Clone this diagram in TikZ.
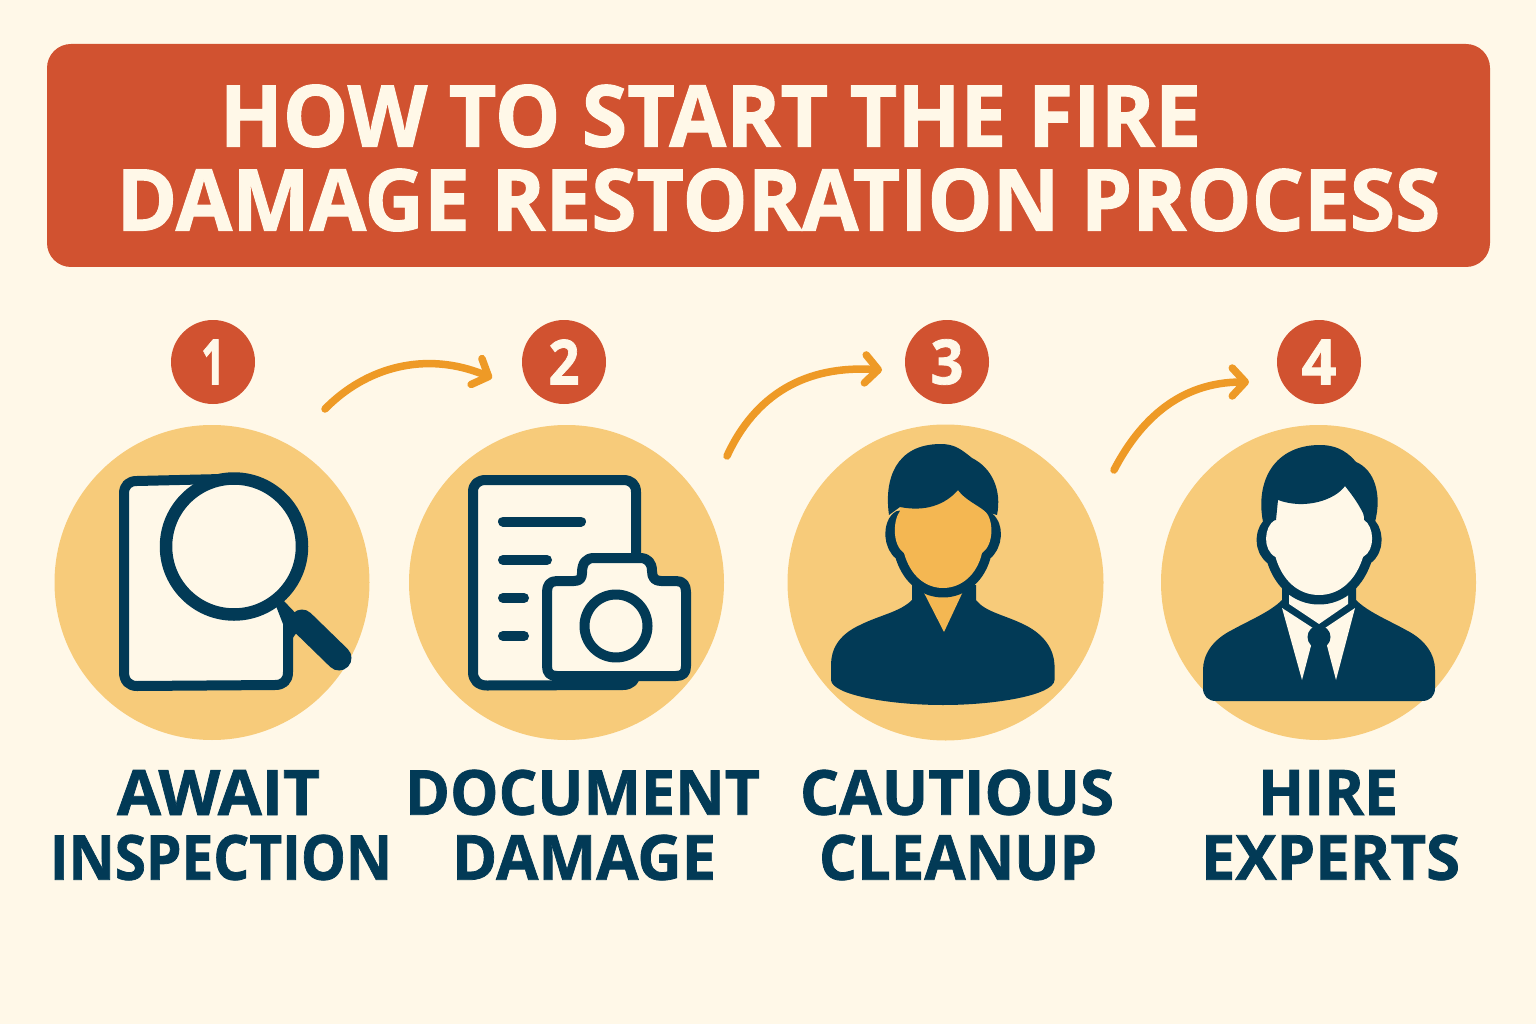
\documentclass[tikz,border=0pt]{standalone}
\usepackage{graphicx}
\usepackage{fontspec}
\setmainfont{Open Sans}[BoldFeatures={FakeBold=1.2}]
\usetikzlibrary{arrows.meta}
\definecolor{bgc}{HTML}{FFF8E8}
\definecolor{bannerc}{HTML}{D15230}
\definecolor{goldc}{HTML}{F7CB7A}
\definecolor{navyc}{HTML}{023A56}
\definecolor{orangec}{HTML}{EE9A26}
\definecolor{amberc}{HTML}{F4B752}
\newcommand{\fitcaps}[3]{\resizebox{#1pt}{#2pt}{\bfseries #3}}
\tikzset{
  txt/.style={inner sep=0pt,outer sep=0pt,anchor=center},
  titletext/.style={txt,text=bgc},
  labeltext/.style={txt,text=navyc},
  badge/.style={circle,fill=bannerc,minimum size=84pt,inner sep=0pt,text=bgc},
  halo/.style={circle,fill=goldc,inner sep=0pt},
  arr/.style={draw=orangec,line width=7.5pt,line cap=round,line join=round,
    -{Straight Barb[length=13pt,width=28pt,round]}},
  icon/.style={draw=navyc,line join=round,line cap=round},
}
\begin{document}
\begin{tikzpicture}[x=1pt,y=-1pt]
\useasboundingbox (0,0) rectangle (1536,1024);
\fill[bgc] (0,0) rectangle (1536,1024);
\node[fill=bannerc,rounded corners=24pt,minimum width=1443pt,minimum height=223pt,inner sep=0pt] (banner) at (768.5,155.5) {};
\node[titletext] (title1) at (710.5,116) {\fitcaps{981}{62}{HOW TO START THE FIRE}};
\node[titletext] (title2) at (778.5,200) {\fitcaps{1323}{62}{DAMAGE RESTORATION PROCESS}};

% halos
\node[halo,minimum size=315pt] (h1) at (212,582.5) {};
\node[halo,minimum size=315pt] (h2) at (566.5,582.5) {};
\node[halo,minimum size=316pt] (h3) at (945.5,582.5) {};
\node[halo,minimum size=315pt] (h4) at (1318.5,582.5) {};

% badges
\node[badge] (b1) at (213,362) {\fitcaps{24}{45}{1}};
\node[badge] (b2) at (564,362) {\fitcaps{31}{45}{2}};
\node[badge] (b3) at (947,362) {\fitcaps{33}{45}{3}};
\node[badge] (b4) at (1319,362) {\fitcaps{35}{45}{4}};

% arrows
\coordinate (a1s) at (325,409);
\coordinate (a1e) at (492,378);
\coordinate (a2s) at (727,456);
\coordinate (a2e) at (882,370);
\coordinate (a3s) at (1114,470);
\coordinate (a3e) at (1249,382);
\draw[arr] (a1s) .. controls (365,368) and (425,350) .. (a1e);
\draw[arr] (a2s) .. controls (755,395) and (805,365) .. (a2e);
\draw[arr] (a3s) .. controls (1140,420) and (1180,382) .. (a3e);

% icon 1: document + magnifier
\draw[icon,fill=bgc,line width=10pt] (288,622) -- (288,672) .. controls (288,681) and (283,685) .. (275,685)
  -- (137,686) .. controls (129,686) and (124,681) .. (124,672) -- (124,494)
  .. controls (124,485) and (129,481) .. (137,481) -- (222,479);
\fill[navyc] (276,606) -- (283,600) -- (304,622) -- (290,642) -- cycle;
\draw[navyc,line width=25pt,line cap=round] (302,622) -- (339,658);
\draw[icon,fill=bgc,line width=12.5pt] (234,546.5) circle (68pt);

% icon 2: document + camera
\draw[icon,fill=bgc,line width=10pt] (473,492) .. controls (473,484) and (478,480) .. (486,480) -- (623,480)
  .. controls (631,480) and (636,484) .. (636,492) -- (636,672) .. controls (636,680) and (631,685) .. (623,685)
  -- (487,685.5) .. controls (478,685.5) and (473,680) .. (473,672) -- cycle;
\draw[icon,line width=10pt] (503,521.5) -- (581,521.5);
\draw[icon,line width=10pt] (503,560) -- (547,560);
\draw[icon,line width=10pt] (503,598) -- (524,598);
\draw[icon,line width=10pt] (503,636) -- (524,636);
\fill[navyc] (552,678) rectangle (626,689);
\draw[icon,fill=bgc,line width=10pt] (547,592) .. controls (547,585) and (550,581) .. (557,581) -- (574,581)
  .. controls (580,581) and (582,578) .. (582,573) .. controls (582,563) and (586,558) .. (594,558) -- (640,558)
  .. controls (648,558) and (652,563) .. (652,571) .. controls (652,578) and (655,581) .. (661,581) -- (676,581)
  .. controls (683,581) and (686,585) .. (686,592) -- (686,666) .. controls (686,673) and (683,676) .. (676,676)
  -- (557,676) .. controls (550,676) and (547,673) .. (547,666) -- cycle;
\draw[icon,line width=10pt] (616,626) circle (31.5pt);

% icon 3: person
\fill[navyc] (912,585) -- (912,600) .. controls (900,612) and (880,615) .. (860,625)
  .. controls (838,635) and (831,650) .. (831,665) -- (831,680)
  .. controls (832,695) and (890,705) .. (943,705) .. controls (996,705) and (1054,695) .. (1054.5,680)
  -- (1054.5,665) .. controls (1054,650) and (1045,635) .. (1025,625)
  .. controls (1005,615) and (985,612) .. (976,600) -- (976,585) -- cycle;
\fill[amberc] (920,585) -- (944,632) -- (966,585) -- cycle;
\path[draw=navyc,line width=19pt,line join=round,fill=navyc] (900,520) .. controls (893,525) and (892,545) .. (904,553)
  .. controls (910,575) and (925,588) .. (943,588) .. controls (961,588) and (977,575) .. (982,553)
  .. controls (994,545) and (994,525) .. (985,520) -- cycle;
\fill[amberc] (900,480) -- (900,511) .. controls (893,520) and (892,545) .. (904,553)
  .. controls (910,575) and (925,588) .. (943,588) .. controls (961,588) and (977,575) .. (982,553)
  .. controls (994,545) and (994,520) .. (985,511) -- (985,480) -- cycle;
\fill[navyc] (889,515) .. controls (884,480) and (895,444) .. (941,444) .. controls (955,444) and (962,450) .. (972,458)
  .. controls (992,468) and (1002,490) .. (997,515) -- (986,512) .. controls (978,505) and (965,500) .. (958,490)
  .. controls (945,505) and (925,512) .. (900,507) -- cycle;

% icon 4: person in suit
\fill[navyc] (1282,585) -- (1282,600) .. controls (1270,612) and (1250,620) .. (1232,630)
  .. controls (1212,640) and (1203,655) .. (1203,670) -- (1203,688)
  .. controls (1203,696) and (1208,701) .. (1216,701) -- (1422,701)
  .. controls (1430,701) and (1435,696) .. (1435,688) -- (1435,670)
  .. controls (1435,655) and (1426,640) .. (1406,630)
  .. controls (1388,620) and (1368,612) .. (1356,600) -- (1356,585) -- cycle;
\fill[bgc] (1282,608) -- (1302,680) -- (1312,642) -- (1326,642) -- (1336,680) -- (1355,608) -- (1319,632) -- cycle;
\fill[bgc] (1289,590) -- (1289,604) -- (1319,624) -- (1348,604) -- (1348,590) -- cycle;
\fill[navyc] (1319,637) circle (11.5pt);
\fill[navyc] (1312,642) -- (1326,642) -- (1335,690) -- (1303,690) -- cycle;
\path[draw=navyc,line width=19pt,line join=round,fill=navyc] (1277,520) -- (1275,524) .. controls (1264,528) and (1262,550) .. (1275.5,557)
  .. controls (1282,580) and (1298,595) .. (1319,595) .. controls (1340,595) and (1356,580) .. (1363,557)
  .. controls (1376,550) and (1374,528) .. (1364,524) -- (1361,520) -- cycle;
\fill[bgc] (1277,480) -- (1275,520) .. controls (1264,526) and (1262,550) .. (1275.5,557)
  .. controls (1282,580) and (1298,595) .. (1319,595) .. controls (1340,595) and (1356,580) .. (1363,557)
  .. controls (1376,550) and (1374,526) .. (1364,520) -- (1361,480) -- cycle;
\fill[navyc] (1263,522) .. controls (1255,480) and (1275,445) .. (1320,445) .. controls (1340,445) and (1350,455) .. (1356,462)
  .. controls (1375,470) and (1382,495) .. (1375,522) -- (1366,520) .. controls (1360,505) and (1352,495) .. (1345,486)
  .. controls (1335,500) and (1305,510) .. (1278,500) -- (1276,520) -- cycle;

% labels
\node[labeltext] (l1a) at (218.5,792.5) {\fitcaps{203}{45}{AWAIT}};
\node[labeltext] (l1b) at (221,857.5) {\fitcaps{342}{45}{INSPECTION}};
\node[labeltext] (l2a) at (582.5,792.5) {\fitcaps{355}{45}{DOCUMENT}};
\node[labeltext] (l2b) at (584,857.5) {\fitcaps{264}{45}{DAMAGE}};
\node[labeltext] (l3a) at (957,792.5) {\fitcaps{314}{45}{CAUTIOUS}};
\node[labeltext] (l3b) at (958,857.5) {\fitcaps{278}{45}{CLEANUP}};
\node[labeltext] (l4a) at (1328,792.5) {\fitcaps{140}{45}{HIRE}};
\node[labeltext] (l4b) at (1330.5,857.5) {\fitcaps{259}{45}{EXPERTS}};
\end{tikzpicture}
\end{document}
